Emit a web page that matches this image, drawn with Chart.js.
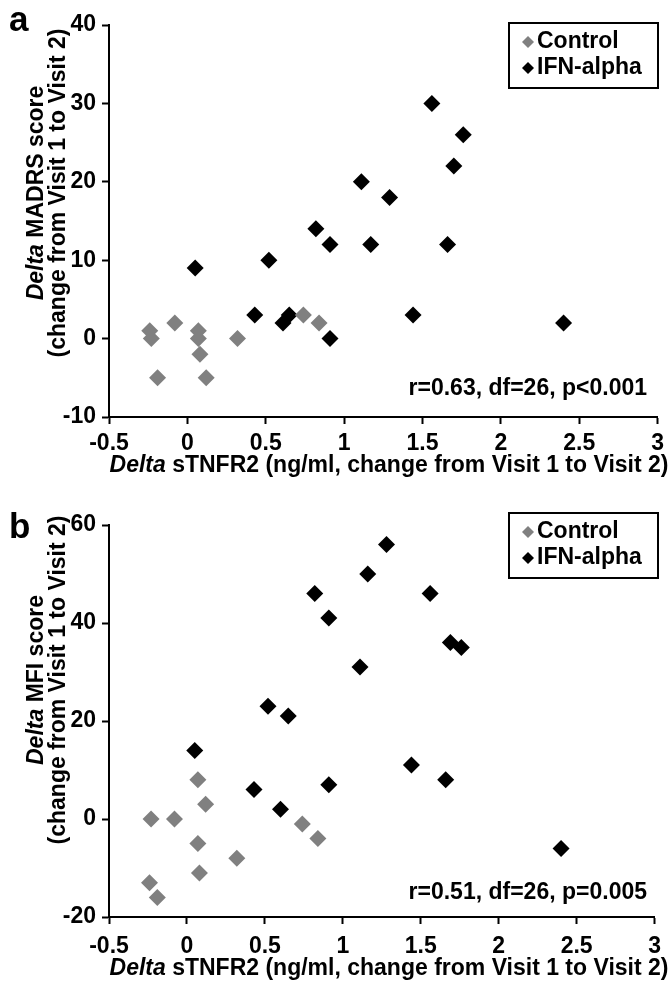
<!DOCTYPE html>
<html>
<head>
<meta charset="utf-8">
<script src="https://cdn.jsdelivr.net/npm/chart.js@4.4.1/dist/chart.umd.min.js"></script>
<style>
  html, body { margin: 0; padding: 0; background: #fff; }
  .panel { position: absolute; left: 0; width: 670px; }
  #pa { top: 0; height: 495px; }
  #pb { top: 495px; height: 494px; }
</style>
</head>
<body>
<div class="panel" id="pa"><canvas id="chartA" width="670" height="495"></canvas></div>
<div class="panel" id="pb"><canvas id="chartB" width="670" height="494"></canvas></div>
<script>
// x = Delta sTNFR2 for each subject
const ctrlX = [-0.24, -0.23, -0.08, 0.07, 0.07, 0.08, -0.19, 0.12, 0.32, 0.74, 0.84];
const ifnX  = [1.11, 1.29, 0.82, 0.91, 1.17, 0.52, 0.05, 0.43, 0.61, 0.65, 0.91, 1.56, 1.76, 1.70, 1.66, 1.44, 2.40];

// panel a: Delta MADRS
const ctrlMadrs = [1, 0, 2, 1, 0, -2, -5, -5, 0, 3, 2];
const ifnMadrs  = [20, 18, 14, 12, 12, 10, 9, 3, 2, 3, 0, 30, 26, 22, 12, 3, 2];

// panel b: Delta MFI
const ctrlMfiX = [-0.23, -0.08, 0.07, 0.12, 0.07, 0.08, 0.32, 0.74, 0.84, -0.24, -0.19];
const ctrlMfi  = [0, 0, 8, 3, -5, -11, -8, -1, -4, -13, -16];
const ifnMfiX  = [1.28, 1.16, 0.82, 0.91, 1.11, 0.52, 0.65, 0.05, 0.43, 0.91, 0.60, 1.56, 1.69, 1.76, 1.44, 1.66, 2.40];
const ifnMfi   = [56, 50, 46, 41, 31, 23, 21, 14, 6, 7, 2, 46, 36, 35, 11, 8, -6];

const xTicks = [-0.5, 0, 0.5, 1, 1.5, 2, 2.5, 3];
const yTicksA = [-10, 0, 10, 20, 30, 40];
const yTicksB = [-20, 0, 20, 40, 60];

const seriesNames = ['Control', 'IFN-alpha'];
const GRAY = '#808080';
const FONT = '"Liberation Sans", Arial, Helvetica, sans-serif';

function pts(xs, ys) {
    return xs.map((x, i) => ({ x: x, y: ys[i] }));
}

// draws the panel letter, axis titles (with italic "Delta"), stats text and boxed legend
const panelText = {
    id: 'panelText',
    afterDraw(chart, args, o) {
        const ctx = chart.ctx;
        const area = chart.chartArea;
        ctx.save();
        ctx.fillStyle = '#000';

        // panel letter
        ctx.font = 'bold 35px ' + FONT;
        ctx.textAlign = 'left';
        ctx.textBaseline = 'alphabetic';
        ctx.fillText(o.letter, 9, o.letterY);
        ctx.textBaseline = 'middle';

        // mixed style line: italic "Delta" + bold rest
        function mixed(rest, cx, cy, size) {
            const fi = 'italic bold ' + size + 'px ' + FONT;
            const fb = 'bold ' + size + 'px ' + FONT;
            ctx.font = fi;
            const w1 = ctx.measureText('Delta').width;
            ctx.font = fb;
            const w2 = ctx.measureText(rest).width;
            const x0 = cx - (w1 + w2) / 2;
            ctx.textAlign = 'left';
            ctx.font = fi;
            ctx.fillText('Delta', x0, cy);
            ctx.font = fb;
            ctx.fillText(rest, x0 + w1, cy);
        }

        // x title
        mixed(' sTNFR2 (ng/ml, change from Visit 1 to Visit 2)', 389, area.bottom + o.xTitleOff, 23);

        // y titles, rotated
        ctx.save();
        ctx.translate(0, o.yTitleCenter);
        ctx.rotate(-Math.PI / 2);
        mixed(o.yTitle, 0, 37, 23);
        ctx.font = 'bold 23px ' + FONT;
        ctx.textAlign = 'center';
        ctx.fillText('(change from Visit 1 to Visit 2)', 0, 59);
        ctx.restore();

        // stats
        ctx.font = 'bold 23px ' + FONT;
        ctx.textAlign = 'right';
        ctx.fillText(o.stats, 647, o.statsY);

        // legend box
        const lb = o.legend;
        ctx.strokeStyle = '#000';
        ctx.lineWidth = 2;
        ctx.strokeRect(509, lb.top, 149, 65);
        ctx.textAlign = 'left';
        ctx.font = 'bold 23px ' + FONT;
        const colors = [GRAY, '#000'];
        seriesNames.forEach((name, i) => {
            const cy = lb.top + 19 + i * 26;
            ctx.fillStyle = colors[i];
            ctx.beginPath();
            ctx.moveTo(528, cy - 6);
            ctx.lineTo(534, cy);
            ctx.lineTo(528, cy + 6);
            ctx.lineTo(522, cy);
            ctx.closePath();
            ctx.fill();
            ctx.fillStyle = '#000';
            ctx.fillText(name, 537, cy);
        });
        ctx.restore();
    }
};

function makeChart(id, ctrl, ifn, yMin, yMax, yTicks, topPad, xHeight, xPad, text) {
    return new Chart(document.getElementById(id).getContext('2d'), {
        type: 'scatter',
        data: {
            datasets: [
                { label: seriesNames[0], data: ctrl, backgroundColor: GRAY, borderWidth: 0,
                  pointStyle: 'rectRot', pointRadius: 8.5, pointHoverRadius: 8.5, clip: false },
                { label: seriesNames[1], data: ifn, backgroundColor: '#000', borderWidth: 0,
                  pointStyle: 'rectRot', pointRadius: 8.5, pointHoverRadius: 8.5, clip: false }
            ]
        },
        options: {
            responsive: false,
            animation: false,
            layout: { padding: { top: topPad, right: 12, left: 0, bottom: 0 } },
            plugins: {
                legend: { display: false },
                tooltip: { enabled: false },
                panelText: text
            },
            scales: {
                x: {
                    type: 'linear', min: -0.5, max: 3,
                    afterBuildTicks: s => { s.ticks = xTicks.map(v => ({ value: v })); },
                    afterFit: s => { s.height = xHeight; },
                    grid: { drawOnChartArea: false, drawTicks: true, tickLength: 7, tickWidth: 2, tickColor: '#000' },
                    border: { display: true, color: '#000', width: 2 },
                    ticks: { color: '#000', padding: xPad, maxRotation: 0, autoSkip: false,
                             font: { family: FONT, size: 23, weight: 'bold' },
                             callback: v => String(v) }
                },
                y: {
                    type: 'linear', min: yMin, max: yMax,
                    afterBuildTicks: s => { s.ticks = yTicks.map(v => ({ value: v })); },
                    afterFit: s => { s.width = 109; },
                    grid: { drawOnChartArea: false, drawTicks: true, tickLength: 7, tickWidth: 2, tickColor: '#000' },
                    border: { display: true, color: '#000', width: 2 },
                    ticks: { color: '#000', padding: 6, autoSkip: false,
                             font: { family: FONT, size: 23, weight: 'bold' },
                             callback: v => String(v) }
                }
            }
        },
        plugins: [panelText]
    });
}

makeChart('chartA', pts(ctrlX, ctrlMadrs), pts(ifnX, ifnMadrs), -10, 40, yTicksA, 25, 78, 6, {
    letter: 'a', letterY: 31, yTitle: ' MADRS score', yTitleCenter: 193, xTitleOff: 49,
    stats: 'r=0.63, df=26, p<0.001', statsY: 389, legend: { top: 23 }
});

makeChart('chartB', pts(ctrlMfiX, ctrlMfi), pts(ifnMfiX, ifnMfi), -20, 60, yTicksB, 30, 72, 9, {
    letter: 'b', letterY: 43, yTitle: ' MFI score', yTitleCenter: 185, xTitleOff: 52,
    stats: 'r=0.51, df=26, p=0.005', statsY: 398, legend: { top: 18 }
});
</script>
</body>
</html>
